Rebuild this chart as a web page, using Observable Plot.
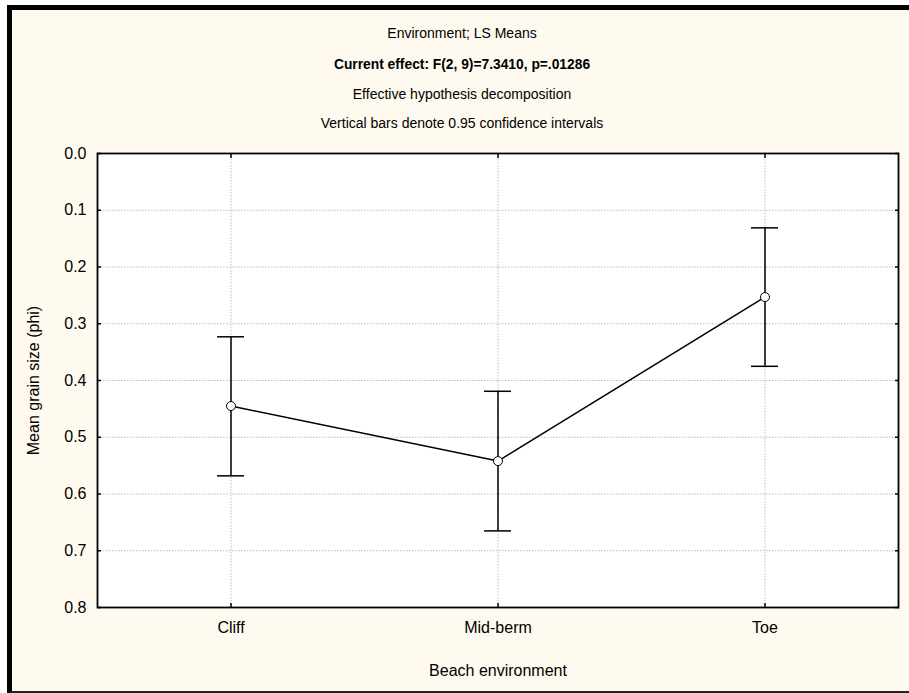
<!DOCTYPE html>
<html><head><meta charset="utf-8">
<script src="https://cdn.jsdelivr.net/npm/d3@7"></script>
<script src="https://cdn.jsdelivr.net/npm/@observablehq/plot@0.6"></script>
<style>
html,body{margin:0;padding:0;background:#fff;}
#fig{position:relative;width:909px;height:693px;overflow:hidden;background:#fff;font-family:Arial,"Liberation Sans",sans-serif;}
#panel{position:absolute;left:7px;top:5px;width:902px;height:688px;background:#fffaef;box-sizing:border-box;border-left:5px solid #000;border-top:5px solid #000;border-bottom:2px solid #222;}
.t{position:absolute;left:0;width:924px;text-align:center;font-size:14px;line-height:16px;color:#000;white-space:nowrap;}
#fig svg{position:absolute;left:0;top:0;}
</style></head><body>
<div id="fig">
  <div id="panel"></div>
  <div id="chart"></div>
  <div class="t" style="top:25px">Environment; LS Means</div>
  <div class="t" style="top:57px;font-weight:bold;font-size:13.8px">Current effect: F(2, 9)=7.3410, p=.01286</div>
  <div class="t" style="top:86px">Effective hypothesis decomposition</div>
  <div class="t" style="top:115px">Vertical bars denote 0.95 confidence intervals</div>
</div>
<script>
const environments = ["Cliff", "Mid-berm", "Toe"];
const means = [0.445, 0.542, 0.253];
const ciLow = [0.323, 0.419, 0.131];
const ciHigh = [0.568, 0.665, 0.375];
const yTicks = [0, 0.1, 0.2, 0.3, 0.4, 0.5, 0.6, 0.7, 0.8];

const data = environments.map((e, i) => ({env: e, mean: means[i], lo: ciLow[i], hi: ciHigh[i]}));
const fmt = d3.format(".1f");
const blank = () => "";

const chart = Plot.plot({
  width: 909, height: 693,
  marginLeft: 97, marginRight: 11, marginTop: 153, marginBottom: 86,
  style: {background: "transparent", fontFamily: "Arial, 'Liberation Sans', sans-serif", fontSize: "16px", color: "#000", overflow: "visible"},
  x: {type: "band", domain: environments, paddingInner: 0.9, paddingOuter: 0.45, align: 0.5},
  y: {domain: [0, 0.8], reverse: true},
  marks: [
    Plot.frame({fill: "white", stroke: "none"}),
    Plot.gridY(yTicks.slice(1, -1), {stroke: "#bdbdbd", strokeOpacity: 1, strokeDasharray: "1.5,1.5"}),
    Plot.gridX({stroke: "#bdbdbd", strokeOpacity: 1, strokeDasharray: "1.5,1.5"}),
    Plot.axisY(yTicks, {anchor: "left", tickSize: 0, tickPadding: 11, tickFormat: fmt, label: "Mean grain size (phi)", labelAnchor: "center", labelOffset: 70, labelArrow: "none"}),
    Plot.axisY(yTicks, {anchor: "left", tickSize: -4, tickFormat: blank, label: null, strokeWidth: 1.5}),
    Plot.axisY(yTicks, {anchor: "right", tickSize: -4, tickFormat: blank, label: null, strokeWidth: 1.5}),
    Plot.axisX({anchor: "top", tickSize: -4, tickFormat: blank, label: null, strokeWidth: 1.5}),
    Plot.axisX({anchor: "bottom", tickSize: -4, tickFormat: blank, label: null, strokeWidth: 1.5}),
    Plot.axisX({anchor: "bottom", tickSize: 0, tickPadding: 14, label: "Beach environment", labelAnchor: "center", labelOffset: 68, labelArrow: "none"}),
    Plot.ruleX(data, {x: "env", y1: "lo", y2: "hi", stroke: "black", strokeWidth: 1.5}),
    Plot.tickY(data, {x: "env", y: "lo", stroke: "black", strokeWidth: 1.5}),
    Plot.tickY(data, {x: "env", y: "hi", stroke: "black", strokeWidth: 1.5}),
    Plot.line(data, {x: "env", y: "mean", stroke: "black", strokeWidth: 1.5}),
    Plot.dot(data, {x: "env", y: "mean", r: 4.5, fill: "white", stroke: "black", strokeWidth: 1}),
    Plot.frame({stroke: "black", strokeWidth: 1.8})
  ]
});
document.getElementById("chart").appendChild(chart);
</script>
</body></html>
